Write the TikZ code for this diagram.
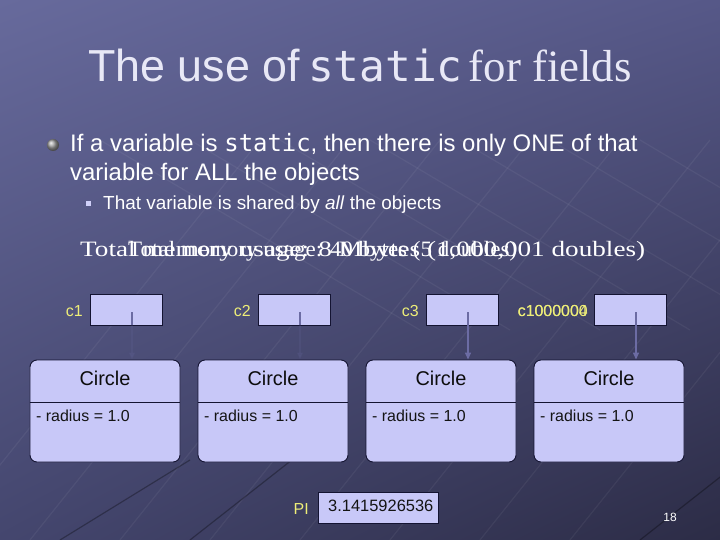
\documentclass[tikz,border=0pt]{standalone}
\usepackage{fontspec}
\setmainfont{Liberation Serif}
\setsansfont{Liberation Sans}
\setmonofont{DejaVu Sans Mono}
\usetikzlibrary{arrows.meta,shadings}
\definecolor{boxfill}{HTML}{C8C8F8}
\definecolor{boxline}{HTML}{141432}
\definecolor{lblyellow}{HTML}{EEEE78}
\definecolor{titlecol}{HTML}{E8E8F6}
\definecolor{ptrcol}{HTML}{6C6CA4}
\definecolor{bgUL}{HTML}{676A9C}
\definecolor{bgUR}{HTML}{565888}
\definecolor{bgLL}{HTML}{44466E}
\definecolor{bgLR}{HTML}{2C2C46}
\tikzset{
  refbox/.style={draw=boxline, line width=0.9pt, fill=boxfill, minimum width=72bp, minimum height=31bp, inner sep=0},
  reflabel/.style={anchor=east, inner sep=0, text=lblyellow, font=\fontsize{16}{18}\selectfont\sffamily},
  classbox/.style={draw=boxline, line width=0.9pt, fill=boxfill, rounded corners=7bp, minimum width=150bp, minimum height=102bp, inner sep=0},
  classname/.style={inner sep=0, text=black!95, font=\fontsize{20}{22}\selectfont\sffamily},
  attr/.style={anchor=base west, inner sep=0, text=black!92, font=\fontsize{16}{18}\selectfont\sffamily},
  ptr/.style={draw=ptrcol, line width=1.5pt, -{Triangle[length=7bp,width=6bp]}},
  ptrline/.style={draw=ptrcol, line width=1.5pt},
  bodytext/.style={anchor=base west, inner sep=0, text=white},
  deco/.style={draw=white, opacity=0.05, line width=1.2pt},
  decodark/.style={draw=black, opacity=0.3, line width=1.2pt}
}
\begin{document}
\begin{tikzpicture}[x=1bp,y=-1bp]
\useasboundingbox (0,0) rectangle (720,540);
\shade[upper left=bgUL, upper right=bgUR, lower left=bgLL, lower right=bgLR] (0,0) rectangle (720,540);
% faint background grid
\foreach \a in {200,290,...,830} {
  \draw[deco] (\a-260,540) -- (\a+60,140);
}
\foreach \a in {0,90,...,540} {
  \draw[deco] (\a+100,140) -- (\a+420,330);
}
\foreach \a in {190,640} { \draw[decodark] (\a,540) -- (\a+140,430); }
\draw[decodark] (60,540) -- (190,460);

% title
\node[anchor=base west, inner sep=0, text=titlecol] (title) at (88,82)
  {\fontsize{45}{52}\selectfont\sffamily The use of\hspace{8bp}{\fontsize{43}{52}\selectfont\ttfamily static}\hspace{6bp}\rmfamily\fontsize{45}{52}\selectfont for fields};

% bullets
\shade[ball color=gray!75] (53,145) circle (6bp);
\node[bodytext] (l1) at (70,152)
  {\fontsize{24}{26}\selectfont\sffamily If a variable is {\ttfamily static}, then there is only ONE of that};
\node[bodytext] (l2) at (70,181)
  {\fontsize{24}{26}\selectfont\sffamily variable for ALL the objects};
\fill[boxfill!85!white] (85.5,201.5) rectangle (90.5,206.5);
\node[bodytext] (l3) at (103,210)
  {\fontsize{19}{22}\selectfont\sffamily That variable is shared by \textit{all} the objects};

% overlapping memory-usage texts (as printed in the reference)
\node[bodytext] (memA) at (80,257)
  {\scalebox{1.24}[1]{\fontsize{22}{24}\selectfont\rmfamily Total memory usage: 8 Mbytes (1,000,001 doubles)}};
\node[bodytext] (memB) at (128,257)
  {\scalebox{1.05}[1]{\fontsize{22}{24}\selectfont\rmfamily Total memory usage: 40 bytes (5 doubles)}};

% reference boxes
\node[refbox] (ref1) at (126,309.5) {};
\node[refbox] (ref2) at (294,309.5) {};
\node[refbox] (ref3) at (462.5,309.5) {};
\node[refbox] (ref4) at (630,309.5) {};
\node[reflabel] (lab1) at (83,311) {c1};
\node[reflabel] (lab2) at (251,311) {c2};
\node[reflabel] (lab3) at (419,311) {c3};
\node[reflabel] (lab4a) at (588,311) {c1000000};
\node[reflabel] (lab4b) at (588,311) {c1000004};
\coordinate (p1) at (132,312);
\coordinate (p2) at (300,312);
\coordinate (p3) at (468,312);
\coordinate (p4) at (636,312);

% class boxes
\foreach \i/\x in {1/105,2/273,3/441,4/609} {
  \node[classbox] (circ\i) at (\x,411) {};
  \draw[boxline, line width=0.9pt] (circ\i.west |- 0,402.5) -- (circ\i.east |- 0,402.5);
  \node[classname] (cname\i) at (\x,378) {Circle};
  \node[attr] (cattr\i) at (\x-69,421) {- radius = 1.0};
}

% pointers
\draw[ptr, opacity=0.15] (p1) -- (circ1.north -| p1);
\draw[ptrline] (p1) -- (ref1.south -| p1);
\draw[ptr, opacity=0.15] (p2) -- (circ2.north -| p2);
\draw[ptrline] (p2) -- (ref2.south -| p2);
\draw[ptr] (p3) -- (circ3.north -| p3);
\draw[ptr] (p4) -- (circ4.north -| p4);

% PI
\node[refbox, minimum width=120bp] (pibox) at (378,507.5) {};
\node[anchor=west, inner sep=0, text=black!92, font=\fontsize{16.5}{18}\selectfont\sffamily] (pival) at (328,505.5) {3.1415926536};
\node[reflabel] (pilab) at (309,509) {PI};

% page number
\node[inner sep=0, text=white, font=\fontsize{12}{14}\selectfont\sffamily] (pg) at (670,517) {18};
\end{tikzpicture}
\end{document}
